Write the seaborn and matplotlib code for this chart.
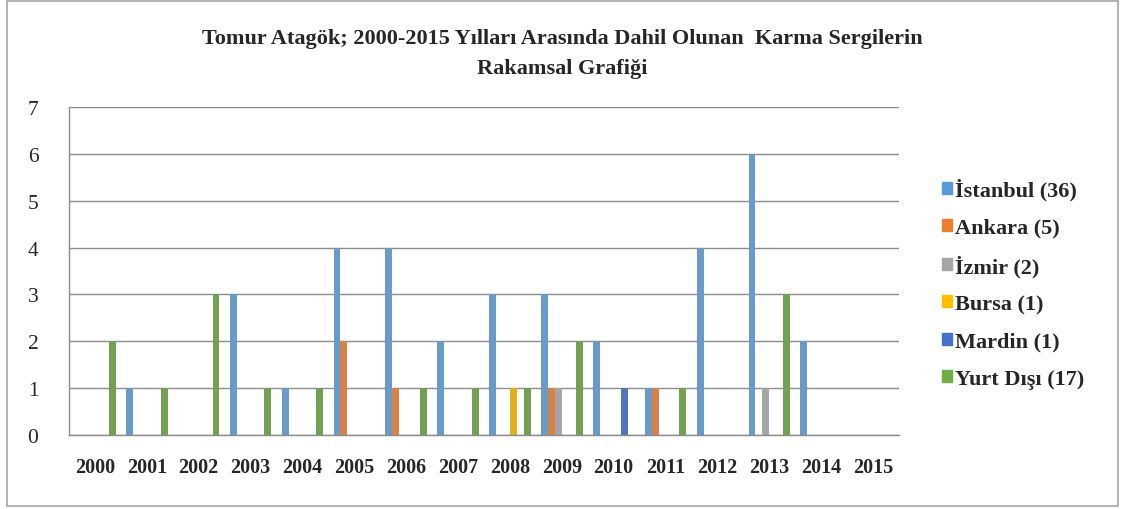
import pandas as pd
import matplotlib
matplotlib.use("Agg")
import matplotlib.pyplot as plt
import seaborn as sns

years = [str(y) for y in range(2000, 2016)]
cities = ["İstanbul", "Ankara", "İzmir", "Bursa", "Mardin", "Yurt Dışı"]
legend_labels = ["İstanbul (36)", "Ankara (5)", "İzmir (2)", "Bursa (1)", "Mardin (1)", "Yurt Dışı (17)"]
colors = ["#5B9BD5", "#ED7D31", "#A5A5A5", "#FFC000", "#4472C4", "#70AD47"]

istanbul = [0, 1, 0, 3, 1, 4, 4, 2, 3, 3, 2, 1, 4, 6, 2, 0]
ankara   = [0, 0, 0, 0, 0, 2, 1, 0, 0, 1, 0, 1, 0, 0, 0, 0]
izmir    = [0, 0, 0, 0, 0, 0, 0, 0, 0, 1, 0, 0, 0, 1, 0, 0]
bursa    = [0, 0, 0, 0, 0, 0, 0, 0, 1, 0, 0, 0, 0, 0, 0, 0]
mardin   = [0, 0, 0, 0, 0, 0, 0, 0, 0, 0, 1, 0, 0, 0, 0, 0]
yurtdisi = [2, 1, 3, 1, 1, 0, 1, 1, 1, 2, 0, 1, 0, 3, 0, 0]

series = [istanbul, ankara, izmir, bursa, mardin, yurtdisi]
rows = []
for city, vals in zip(cities, series):
    for yr, v in zip(years, vals):
        rows.append({"yil": yr, "sehir": city, "sayi": v})
df = pd.DataFrame(rows)

sns.set_theme(style="white")
plt.rcParams['font.family'] = ['Liberation Serif', 'DejaVu Serif']

fig = plt.figure(figsize=(11.25, 5.1), dpi=100)
ax = fig.add_axes([69 / 1125, 1 - 436 / 510, 830 / 1125, 328 / 510])

sns.barplot(data=df, x="yil", y="sayi", hue="sehir", order=years, hue_order=cities,
            palette=dict(zip(cities, colors)), width=0.8, linewidth=0, ax=ax, legend=False)

ax.set_ylim(0, 7)
ax.set_xlim(-0.5, len(years) - 0.5)
ax.set_yticks(range(0, 8))
ax.yaxis.grid(True, color="#8c8c8c", linewidth=1)
ax.set_axisbelow(True)
ax.set_xlabel("")
ax.set_ylabel("")
for side in ["top", "right"]:
    ax.spines[side].set_visible(False)
for side in ["left", "bottom"]:
    ax.spines[side].set_color("#8c8c8c")
    ax.spines[side].set_linewidth(1)
ax.tick_params(axis="both", length=0)
ax.tick_params(axis="x", pad=16, labelsize=14.5)
ax.tick_params(axis="y", pad=22, labelsize=15.5)
for lbl in ax.get_xticklabels():
    lbl.set_fontweight("bold")

handles = [plt.Rectangle((0, 0), 1, 1, color=c) for c in colors]
fig.legend(handles, legend_labels, loc="upper left", bbox_to_anchor=(922 / 1125, 1 - 159 / 510),
           frameon=False, prop={"family": "Liberation Serif", "weight": "bold", "size": 16},
           handlelength=0.45, handleheight=0.45, handletextpad=0.15, labelspacing=0.77)

fig.text(562 / 1125, 1 - 54 / 510,
         "Tomur Atagök; 2000-2015 Yılları Arasında Dahil Olunan  Karma Sergilerin\nRakamsal Grafiği",
         ha="center", va="center", fontsize=16, fontweight="bold", linespacing=1.7)

fig.add_artist(plt.Rectangle((7 / 1125, 3 / 510), 1111 / 1125, 505 / 510, transform=fig.transFigure,
                             fill=False, edgecolor="#a6a6a6", linewidth=1.2))

fig.savefig("out.png", dpi=100)
